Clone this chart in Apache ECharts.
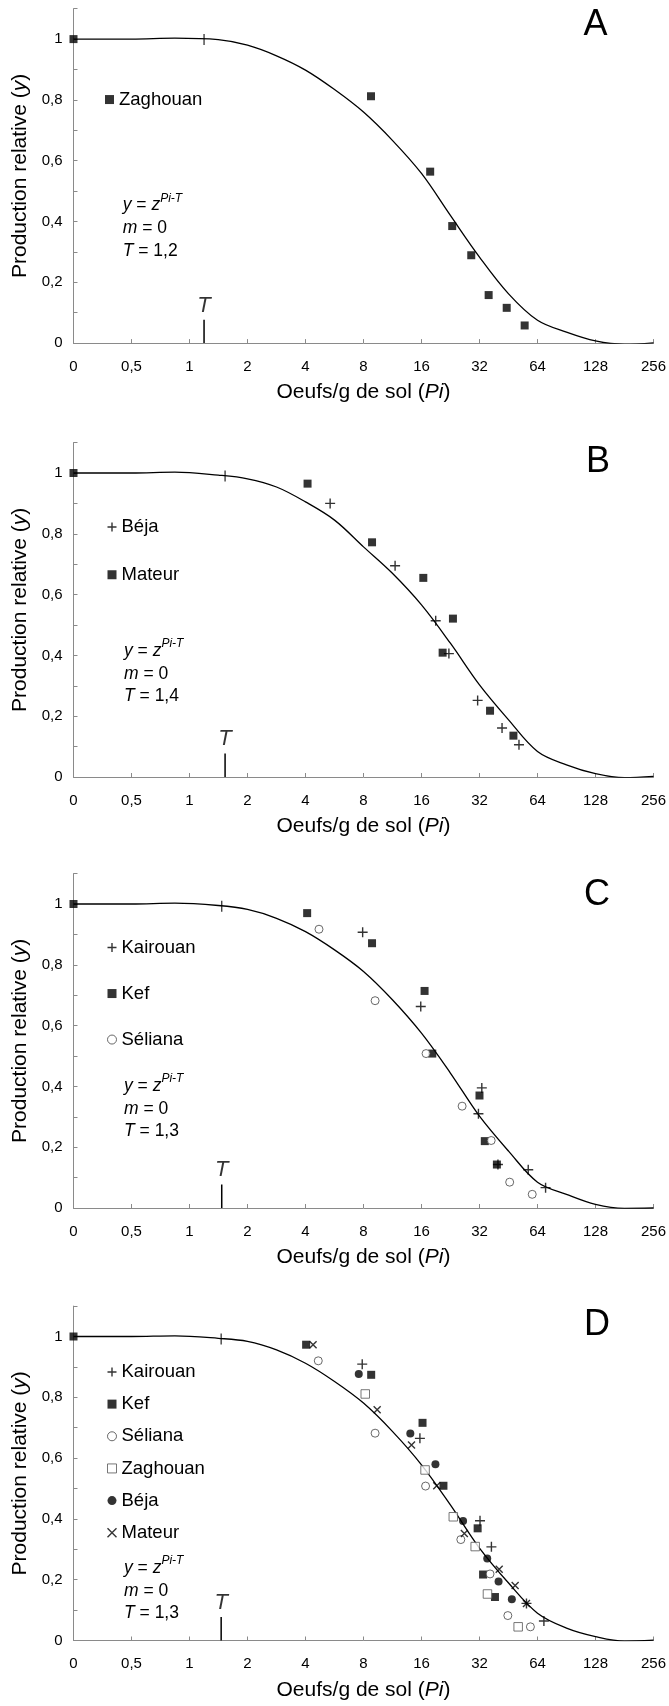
<!DOCTYPE html>
<html><head><meta charset="utf-8">
<script src="https://cdn.jsdelivr.net/npm/echarts@6/dist/echarts.min.js"></script>
<style>html,body{margin:0;padding:0;background:#fff}#c{width:669px;height:1706px}</style>
</head><body><div id="c"></div>
<script>
// ---------- data ----------
const xTickLabels = ['0', '0,5', '1', '2', '4', '8', '16', '32', '64', '128', '256'];
const panelLetters = ['A', 'B', 'C', 'D'];
const tValues = ['1,2', '1,4', '1,3', '1,3'];

// model curve (Pi, y)
const curvePi = [0, 0.5, 0.84, 1.41, 2, 2.83, 4, 5.66, 8, 11.3, 16, 22.6, 32, 45.3, 64, 90.5, 128, 181, 256];
const curveA = [1, 1, 1.003, 0.998, 0.980, 0.945, 0.898, 0.834, 0.760, 0.667, 0.558, 0.420, 0.283, 0.162, 0.075, 0.036, 0.007, -0.004, 0.001];
const curveB = [1, 1, 1.003, 0.993, 0.981, 0.954, 0.905, 0.845, 0.757, 0.670, 0.566, 0.440, 0.303, 0.188, 0.084, 0.040, 0.011, -0.002, 0.002];
const curveC = [1, 1, 1.003, 0.995, 0.982, 0.953, 0.909, 0.849, 0.778, 0.685, 0.575, 0.444, 0.302, 0.187, 0.085, 0.045, 0.012, -0.001, 0];
const curveD = [1, 1, 1.002, 0.994, 0.984, 0.956, 0.912, 0.852, 0.781, 0.688, 0.578, 0.446, 0.304, 0.189, 0.090, 0.041, 0.013, -0.002, 0.001];

// T tick position on each curve and the T marker
const tTickX = [1.19, 1.53, 1.47, 1.46];
const tTickY = [0.999, 0.990, 0.993, 0.992];
const tMarkY = [0, 0.077];
const tLabelY = 0.124;

// Panel A
const aZaghouanX = [0, 8.75, 17.75, 23.1, 29.0, 35.7, 44.3, 54.9];
const aZaghouanY = [1, 0.812, 0.564, 0.385, 0.289, 0.158, 0.116, 0.058];
// Panel B
const bBejaX = [5.37, 11.67, 18.96, 22.2, 31.3, 41.9, 51.3];
const bBejaY = [0.900, 0.695, 0.514, 0.406, 0.252, 0.161, 0.106];
const bMateurX = [0, 4.10, 8.86, 16.35, 23.3, 20.6, 36.3, 48.0];
const bMateurY = [1, 0.965, 0.772, 0.655, 0.521, 0.409, 0.218, 0.136];
// Panel C
const cKairouanX = [7.92, 15.86, 32.9, 31.6, 39.9, 57.3, 70.5];
const cKairouanY = [0.907, 0.663, 0.395, 0.310, 0.143, 0.126, 0.067];
const cKefX = [0, 4.08, 8.86, 16.6, 18.2, 32.0, 34.1, 39.4];
const cKefY = [1, 0.970, 0.871, 0.714, 0.508, 0.370, 0.220, 0.143];
const cSelianaX = [4.70, 9.19, 16.9, 26.0, 36.8, 45.9, 60.1];
const cSelianaY = [0.917, 0.682, 0.508, 0.335, 0.222, 0.085, 0.045];
// Panel D
const dKairouanX = [7.88, 15.7, 32.2, 36.9, 56.1, 69.1];
const dKairouanY = [0.909, 0.665, 0.394, 0.308, 0.122, 0.064];
const dKefX = [0, 4.03, 8.77, 16.2, 20.8, 31.3, 33.4, 38.5];
const dKefY = [1, 0.973, 0.874, 0.716, 0.509, 0.369, 0.217, 0.143];
const dSelianaX = [4.66, 9.19, 16.8, 25.6, 36.3, 44.9, 58.8];
const dSelianaY = [0.920, 0.682, 0.508, 0.332, 0.219, 0.082, 0.045];
const dZaghouanX = [8.17, 16.7, 23.4, 30.4, 35.2, 50.8];
const dZaghouanY = [0.811, 0.561, 0.407, 0.309, 0.153, 0.045];
const dBejaX = [7.56, 14.0, 18.9, 26.3, 35.1, 40.2, 47.1];
const dBejaY = [0.877, 0.681, 0.580, 0.393, 0.270, 0.194, 0.136];
const dMateurX = [4.38, 9.42, 14.2, 19.2, 26.7, 40.5, 49.0, 56.1];
const dMateurY = [0.973, 0.759, 0.643, 0.509, 0.352, 0.234, 0.181, 0.122];

// ---------- layout / style ----------
const FONT = '"Liberation Sans", Arial, sans-serif';
const AXIS_GRAY = '#8a8a8a';
const gridTops = [8.7, 442.6, 873.6, 1306.1];
const GRID_H = 334.4;
const GRID_LEFT = 73.5, GRID_W = 581;
// The x axis is a base-2 logarithmic axis: position = log2(Pi); the tick labelled "0" sits at log2 = -2.
const X_MIN = -2, X_MAX = 8;
const TICK_FS = 15, TITLE_FS = 21, LEGEND_FS = 18.5, FORM_FS = 17.5;

const SYM = {
  square: { symbol: 'rect', symbolSize: 8, itemStyle: { color: '#000', borderWidth: 0 } },
  openSquare: { symbol: 'rect', symbolSize: 8.5, itemStyle: { color: '#fff', borderColor: '#555', borderWidth: 1 } },
  dot: { symbol: 'circle', symbolSize: 8, itemStyle: { color: '#000', borderWidth: 0 } },
  openCircle: { symbol: 'circle', symbolSize: 8, itemStyle: { color: '#fff', borderColor: '#444', borderWidth: 1 } },
  plus: { symbol: 'path://M0,5L10,5M5,0L5,10', symbolSize: 10, itemStyle: { color: 'none', borderColor: '#000', borderWidth: 1.4 } },
  cross: { symbol: 'path://M0,0L10,10M10,0L0,10', symbolSize: 7, itemStyle: { color: 'none', borderColor: '#000', borderWidth: 1.4 } }
};

function lx(v) { return v === 0 ? X_MIN : Math.log2(v); }
function pts(xs, ys) { return xs.map((x, i) => [lx(x), ys[i]]); }
function scat(g, name, xs, ys, sym) {
  return Object.assign({ type: 'scatter', name: name, xAxisIndex: g, yAxisIndex: g, data: pts(xs, ys), z: 4 },
    JSON.parse(JSON.stringify(sym)));
}

const panels = [
  { curve: curveA, legendCenters: [99.3], marks: [['A:Zaghouan', aZaghouanX, aZaghouanY, 'square']] },
  { curve: curveB, legendCenters: [526.7, 574], marks: [['B:Béja', bBejaX, bBejaY, 'plus'], ['B:Mateur', bMateurX, bMateurY, 'square']] },
  { curve: curveC, legendCenters: [947.3, 993.3, 1038.3], marks: [
      ['C:Kairouan', cKairouanX, cKairouanY, 'plus'], ['C:Kef', cKefX, cKefY, 'square'], ['C:Séliana', cSelianaX, cSelianaY, 'openCircle']] },
  { curve: curveD, legendCenters: [1371.7, 1403.3, 1433.3, 1470, 1500.7, 1530], marks: [
      ['D:Kairouan', dKairouanX, dKairouanY, 'plus'], ['D:Kef', dKefX, dKefY, 'square'], ['D:Séliana', dSelianaX, dSelianaY, 'openCircle'],
      ['D:Zaghouan', dZaghouanX, dZaghouanY, 'openSquare'], ['D:Béja', dBejaX, dBejaY, 'dot'], ['D:Mateur', dMateurX, dMateurY, 'cross']] }
];
const formulaX = [122.7, 124, 124, 124];
const formulaY = [205.5, 651, 1086, 1568];
const FORM_STEP = 22.7;
const letterPos = [[595.5, 25.5], [598, 461.7], [597, 895], [597, 1325]];

const grid = [], xAxis = [], yAxis = [], series = [], legend = [], graphic = [];

panels.forEach((p, g) => {
  grid.push({ left: GRID_LEFT, top: gridTops[g], width: GRID_W, height: GRID_H });
  xAxis.push({
    type: 'value', gridIndex: g, min: X_MIN, max: X_MAX, interval: 1,
    axisLine: { onZero: false, lineStyle: { color: AXIS_GRAY, width: 1 } },
    axisTick: { inside: true, length: 4, lineStyle: { color: AXIS_GRAY } },
    splitLine: { show: false },
    axisLabel: {
      margin: 16, color: '#000', fontSize: TICK_FS, fontFamily: FONT, showMinLabel: true, showMaxLabel: true,
      formatter: v => xTickLabels[Math.round(v) - X_MIN]
    },
    name: 'Oeufs/g de sol ({i|Pi})', nameLocation: 'middle', nameGap: 39,
    nameTextStyle: { color: '#000', fontSize: TITLE_FS, fontFamily: FONT,
      rich: { i: { fontStyle: 'italic', fontSize: TITLE_FS, fontFamily: FONT, color: '#000' } } }
  });
  yAxis.push({
    type: 'value', gridIndex: g, min: 0, max: 1.1, interval: 0.1,
    axisLine: { show: true, onZero: false, lineStyle: { color: AXIS_GRAY, width: 1 } },
    axisTick: { show: true, inside: true, length: 4, lineStyle: { color: AXIS_GRAY } },
    splitLine: { show: false },
    axisLabel: {
      margin: 11, color: '#000', fontSize: TICK_FS, fontFamily: FONT,
      formatter: v => { const k = Math.round(v * 10); return (k % 2 || k > 10) ? '' : String(k / 10).replace('.', ','); }
    },
    name: 'Production relative ({i|y})', nameLocation: 'middle', nameGap: 41,
    nameTextStyle: { color: '#000', fontSize: TITLE_FS, fontFamily: FONT,
      rich: { i: { fontStyle: 'italic', fontSize: TITLE_FS, fontFamily: FONT, color: '#000' } } }
  });

  // model curve
  series.push({ type: 'line', xAxisIndex: g, yAxisIndex: g, data: pts(curvePi, p.curve), smooth: 0.35,
    showSymbol: false, lineStyle: { color: '#000', width: 1.3 }, z: 2, silent: true });
  // tick on curve at T
  series.push({ type: 'scatter', xAxisIndex: g, yAxisIndex: g, data: [[lx(tTickX[g]), tTickY[g]]], symbol: 'rect',
    symbolSize: [1.3, 11], itemStyle: { color: '#000' }, z: 3, silent: true });
  // T marker on the x axis
  series.push({ type: 'line', xAxisIndex: g, yAxisIndex: g, data: tMarkY.map(y => [lx(tTickX[g]), y]), showSymbol: false,
    lineStyle: { color: '#000', width: 1.5 }, z: 3, silent: true });
  series.push({ type: 'scatter', xAxisIndex: g, yAxisIndex: g, data: [[lx(tTickX[g]), tLabelY]], symbolSize: 1,
    itemStyle: { color: 'rgba(0,0,0,0)' }, silent: true,
    label: { show: true, position: 'inside', formatter: 'T', color: '#000', fontSize: 22, fontStyle: 'italic', fontFamily: FONT } });

  // observations
  const names = [];
  p.marks.forEach(m => {
    series.push(scat(g, m[0], m[1], m[2], SYM[m[3]]));
    const filled = (m[3] === 'square' || m[3] === 'dot');
    names.push({ name: m[0], itemStyle: { borderWidth: filled ? 0 : (m[3] === 'plus' || m[3] === 'cross' ? 1.4 : 1) } });
  });
  const c = p.legendCenters;
  const step = c.length > 1 ? (c[c.length - 1] - c[0]) / (c.length - 1) : 0;
  legend.push({
    data: names, orient: 'vertical', left: 105, top: c[0] - LEGEND_FS / 2, padding: 0,
    itemGap: Math.max(0, step - LEGEND_FS), itemWidth: 9, itemHeight: 9, selectedMode: false,
    textStyle: { fontSize: LEGEND_FS, fontFamily: FONT, color: '#000', lineHeight: LEGEND_FS },
    formatter: n => n.split(':')[1]
  });

  // panel letter
  graphic.push({ type: 'text', x: letterPos[g][0], y: letterPos[g][1], silent: true,
    style: { text: panelLetters[g], font: '36px ' + FONT, fill: '#000', align: 'center', verticalAlign: 'middle',
      textAlign: 'center', textVerticalAlign: 'middle' } });
  // formula block
  const fx = formulaX[g], fy = formulaY[g];
  const base = { fontSize: FORM_FS, fontFamily: FONT, lineHeight: 22, verticalAlign: 'bottom', fill: '#000' };
  graphic.push({ type: 'text', x: fx, y: fy - 2, silent: true,
    style: { text: '{i|y}{n| = }{i|z}{s|Pi-T}', font: FORM_FS + 'px ' + FONT, fill: '#000', verticalAlign: 'middle', textVerticalAlign: 'middle',
      rich: { i: Object.assign({}, base, { fontStyle: 'italic' }), n: Object.assign({}, base),
        s: { fontSize: 12, fontFamily: FONT, fontStyle: 'italic', lineHeight: 22, verticalAlign: 'top', fill: '#000' } } } });
  graphic.push({ type: 'text', x: fx, y: fy + FORM_STEP, silent: true,
    style: { text: '{i|m} = 0', font: FORM_FS + 'px ' + FONT, fill: '#000', verticalAlign: 'middle', textVerticalAlign: 'middle',
      rich: { i: { fontStyle: 'italic', fontSize: FORM_FS, fontFamily: FONT, fill: '#000' } } } });
  graphic.push({ type: 'text', x: fx, y: fy + 2 * FORM_STEP, silent: true,
    style: { text: '{i|T} = ' + tValues[g], font: FORM_FS + 'px ' + FONT, fill: '#000', verticalAlign: 'middle', textVerticalAlign: 'middle',
      rich: { i: { fontStyle: 'italic', fontSize: FORM_FS, fontFamily: FONT, fill: '#000' } } } });
});

const chart = echarts.init(document.getElementById('c'), null, { renderer: 'canvas' });
chart.setOption({ animation: false, backgroundColor: '#fff', grid, xAxis, yAxis, series, legend, graphic });
</script>
</body></html>
